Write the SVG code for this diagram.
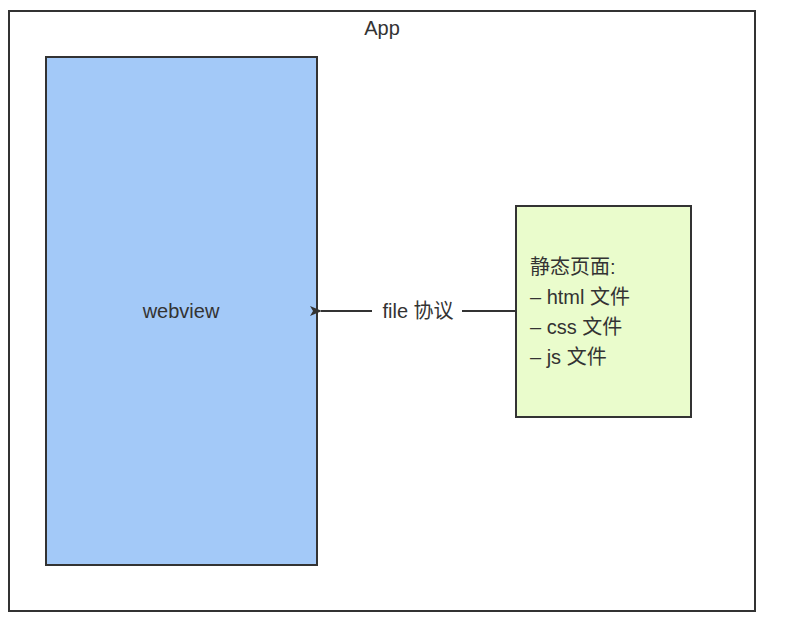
<svg xmlns="http://www.w3.org/2000/svg" width="804" height="642" viewBox="0 0 804 642">
<defs>
<style>
text{font-family:"Liberation Sans","Noto Sans CJK SC",sans-serif;font-size:20px;fill:#333}
.box{stroke:#333;stroke-width:2}
</style>
<marker id="arr" markerWidth="12" markerHeight="10" refX="1" refY="5" orient="auto" markerUnits="userSpaceOnUse" viewBox="0 0 12 10"><path d="M12,0 L0,5 L12,10 L9,5 Z" fill="#333"/></marker>
</defs>
<rect width="804" height="642" fill="#fff"/>
<g id="app"><rect class="box" x="9" y="11" width="746" height="600" fill="#fff"/><text x="382" y="35" text-anchor="middle">App</text></g>
<g id="webview"><rect class="box" x="46" y="57" width="271" height="508" fill="#a3c9f8"/><text x="181" y="318" text-anchor="middle">webview</text></g>
<g id="static"><rect class="box" x="516" y="206" width="175" height="211" fill="#eafccc"/>
<text x="530" y="274">静态页面:</text><text x="530" y="304"> – html 文件</text><text x="530" y="334"> – css 文件</text><text x="530" y="364"> – js 文件</text></g>
<g id="connectors"><path d="M516,311 H321" stroke="#333" stroke-width="2" fill="none" marker-end="url(#arr)"/>
<rect x="372" y="298" width="90" height="26" fill="#fff"/><text x="418" y="318" text-anchor="middle">file 协议</text></g>
</svg>
